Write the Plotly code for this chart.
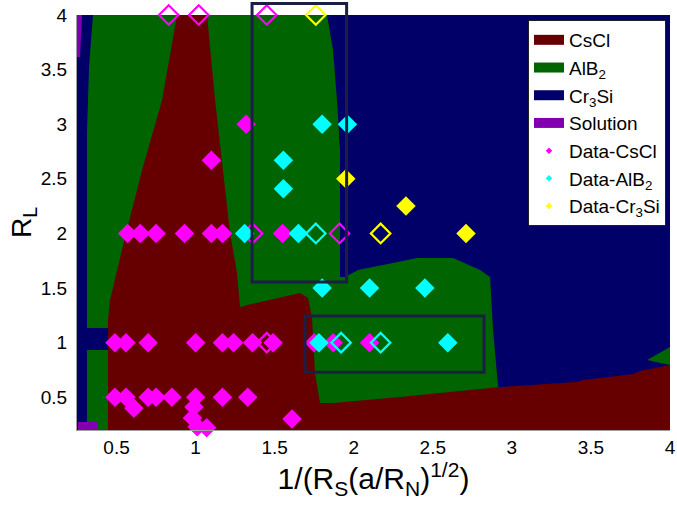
import plotly.graph_objects as go

# ---------------- axes ----------------
x_range = [0.25, 4.0]
y_range = [0.2, 4.0]
x_ticks = [0.5, 1, 1.5, 2, 2.5, 3, 3.5, 4]
x_ticklabels = ["0.5", "1", "1.5", "2", "2.5", "3", "3.5", "4"]
y_ticks = [0.5, 1, 1.5, 2, 2.5, 3, 3.5, 4]
y_ticklabels = ["0.5", "1", "1.5", "2", "2.5", "3", "3.5", "4"]

# ---------------- phase regions (boundary polygons) ----------------
cr3si_x = [0.25, 4.0, 4.0, 0.25]
cr3si_y = [0.2, 0.2, 4.0, 4.0]

alb2_x = [0.351, 1.831, 1.869, 1.894, 1.913, 1.913, 1.945, 2.027, 2.185, 2.401, 2.628,
          2.799, 2.862, 2.881, 2.913, 2.926, 0.313, 0.313, 0.446, 0.446, 0.313, 0.313,
          0.326, None, 3.855, 4.0, 4.0]
alb2_y = [4.0, 4.0, 3.679, 3.222, 2.764, 1.601, 1.601, 1.665, 1.711, 1.775, 1.775,
          1.665, 1.601, 1.115, 0.593, 0.2, 0.2, 0.932, 0.932, 1.134, 1.134, 2.919,
          3.524, None, 0.841, 0.960, 0.795]

cscl_x = [0.446, 0.446, 0.459, 0.509, 0.560, 0.667, 0.788, 0.883, 1.072, 1.123, 1.173,
          1.218, 1.262, 1.281, 1.325, 1.597, 1.660, 1.711, 1.736, 1.755, 1.787, 1.869,
          2.293, 2.926, 3.406, 3.451, 3.767, 3.810, 4.0, 4.0]
cscl_y = [0.2, 1.207, 1.390, 1.692, 2.004, 2.608, 3.222, 4.0, 4.0, 3.222, 2.608,
          2.004, 1.637, 1.326, 1.344, 1.436, 1.454, 1.408, 1.234, 0.722, 0.447, 0.447,
          0.502, 0.593, 0.639, 0.657, 0.712, 0.740, 0.795, 0.2]

solution_x = [0.25, 0.282, 0.269, 0.25, None, 0.256, 0.376, 0.376, 0.256]
solution_y = [4.0, 4.0, 3.615, 3.615, None, 0.2, 0.2, 0.273, 0.273]

# ---------------- data points ----------------
# CsCl (open points listed first, then filled)
cscl_pts_x = [0.83, 1.02, 1.45, 1.36, 1.91, 1.45,
              1.32, 1.10,
              0.57, 0.65, 0.75, 0.93, 1.10, 1.17, 1.55,
              0.49, 0.56, 0.70, 1.00, 1.17, 1.24, 1.36, 1.49, 1.75, 1.87, 2.10,
              0.49, 0.56, 0.70, 0.75, 0.85, 1.00, 1.17, 1.33,
              0.61, 0.99, 0.98, 1.01, 1.07, 1.61]
cscl_pts_y = [4, 4, 4, 2, 2, 1,
              3, 2.67,
              2, 2, 2, 2, 2, 2, 2,
              1, 1, 1, 1, 1, 1, 1, 1, 1, 1, 1,
              0.5, 0.5, 0.5, 0.5, 0.5, 0.5, 0.5, 0.5,
              0.4, 0.41, 0.31, 0.23, 0.22, 0.3]
cscl_open = [True] * 6 + [False] * 34

alb2_pts_x = [1.80, 1.96, 1.555, 1.555, 1.31, 1.65, 1.80, 2.10, 2.45, 1.78, 2.595,
              1.76, 1.92, 2.17]
alb2_pts_y = [3, 3, 2.67, 2.41, 2, 2, 1.5, 1.5, 1.5, 1, 1,
              2, 1, 1]
alb2_open = [False] * 11 + [True] * 3

cr3si_pts_x = [1.95, 2.33, 2.71, 1.76, 2.17]
cr3si_pts_y = [2.5, 2.25, 2.0, 4.0, 2.0]
cr3si_open = [False, False, False, True, True]

# highlighted windows
box1_x = [1.357, 1.955]
box1_y = [1.555, 4.105]
box2_x = [1.692, 2.824]
box2_y = [0.728, 1.245]

C_CSCL = "#660000"
C_ALB2 = "#006400"
C_CR3SI = "#000068"
C_SOL = "#8000b0"
C_BOX = "#1c1f45"
FONT = "Liberation Sans, Arial, sans-serif"

fig = go.Figure()


def region(xs, ys, color):
    fig.add_trace(go.Scatter(x=xs, y=ys, mode="lines", fill="toself", fillcolor=color,
                             line=dict(width=0, color=color), hoverinfo="skip",
                             showlegend=False))


region(cr3si_x, cr3si_y, C_CR3SI)
region(alb2_x, alb2_y, C_ALB2)
region(cscl_x, cscl_y, C_CSCL)
region(solution_x, solution_y, C_SOL)


def points(xs, ys, opens, color):
    fig.add_trace(go.Scatter(
        x=xs, y=ys, mode="markers", cliponaxis=False, showlegend=False,
        hoverinfo="skip",
        marker=dict(symbol=["diamond-open" if o else "diamond" for o in opens],
                    size=15, color=color,
                    line=dict(color=color, width=[2.2 if o else 0 for o in opens]))))


points(cscl_pts_x, cscl_pts_y, cscl_open, "#ff00ff")
points(alb2_pts_x, alb2_pts_y, alb2_open, "#00ffff")
points(cr3si_pts_x, cr3si_pts_y, cr3si_open, "#ffff00")

# legend entries
for name, col in [("CsCl", C_CSCL), ("AlB<sub>2</sub>", C_ALB2),
                  ("Cr<sub>3</sub>Si", C_CR3SI), ("Solution", C_SOL)]:
    fig.add_trace(go.Scatter(x=[None], y=[None], mode="lines", name=name,
                             line=dict(color=col, width=16)))
for name, col in [("Data-CsCl", "#ff00ff"), ("Data-AlB<sub>2</sub>", "#00ffff"),
                  ("Data-Cr<sub>3</sub>Si", "#ffff00")]:
    fig.add_trace(go.Scatter(x=[None], y=[None], mode="markers", name=name,
                             marker=dict(symbol="diamond", size=5, color=col)))


def dom(v, r):
    return (v - r[0]) / (r[1] - r[0])


for bx, by in [(box1_x, box1_y), (box2_x, box2_y)]:
    fig.add_shape(type="rect", xref="x domain", yref="y domain",
                  x0=dom(bx[0], x_range), x1=dom(bx[1], x_range),
                  y0=dom(by[0], y_range), y1=dom(by[1], y_range),
                  line=dict(color=C_BOX, width=3), fillcolor="rgba(0,0,0,0)",
                  layer="above")

fig.update_layout(
    width=677, height=505, autosize=False,
    margin=dict(l=77, r=7, t=15, b=75),
    paper_bgcolor="white", plot_bgcolor="white",
    font=dict(family=FONT, size=19, color="black"),
    showlegend=True,
    legend=dict(x=0.7605, y=0.988, xanchor="left", yanchor="top",
                bgcolor="white", bordercolor="#202020", borderwidth=1,
                font=dict(family=FONT, size=19), tracegroupgap=0),
    xaxis=dict(range=x_range, tickvals=x_ticks, ticktext=x_ticklabels,
               showgrid=False, zeroline=False, showline=True, linecolor="#a0a0a0",
               linewidth=1, ticks="", tickfont=dict(size=19), automargin=False,
               ticklabeloverflow="allow",
               title=dict(text="1/(R<sub>S</sub>(a/R<sub>N</sub>)<sup>1/2</sup>)",
                          font=dict(size=30), standoff=0)),
    yaxis=dict(range=y_range, tickvals=y_ticks, ticktext=y_ticklabels,
               showgrid=False, zeroline=False, showline=True, linecolor="#a0a0a0",
               linewidth=1, ticks="", tickfont=dict(size=19), automargin=False,
               ticklabelstandoff=5, ticklabeloverflow="allow",
               title=dict(text="R<sub>L</sub>", font=dict(size=28), standoff=0)),
)

# remove the default page margin so the figure sits at the window's corner
fig.write_html("out.html", config={"displayModeBar": False},
               post_script="document.body.style.margin='0';")
